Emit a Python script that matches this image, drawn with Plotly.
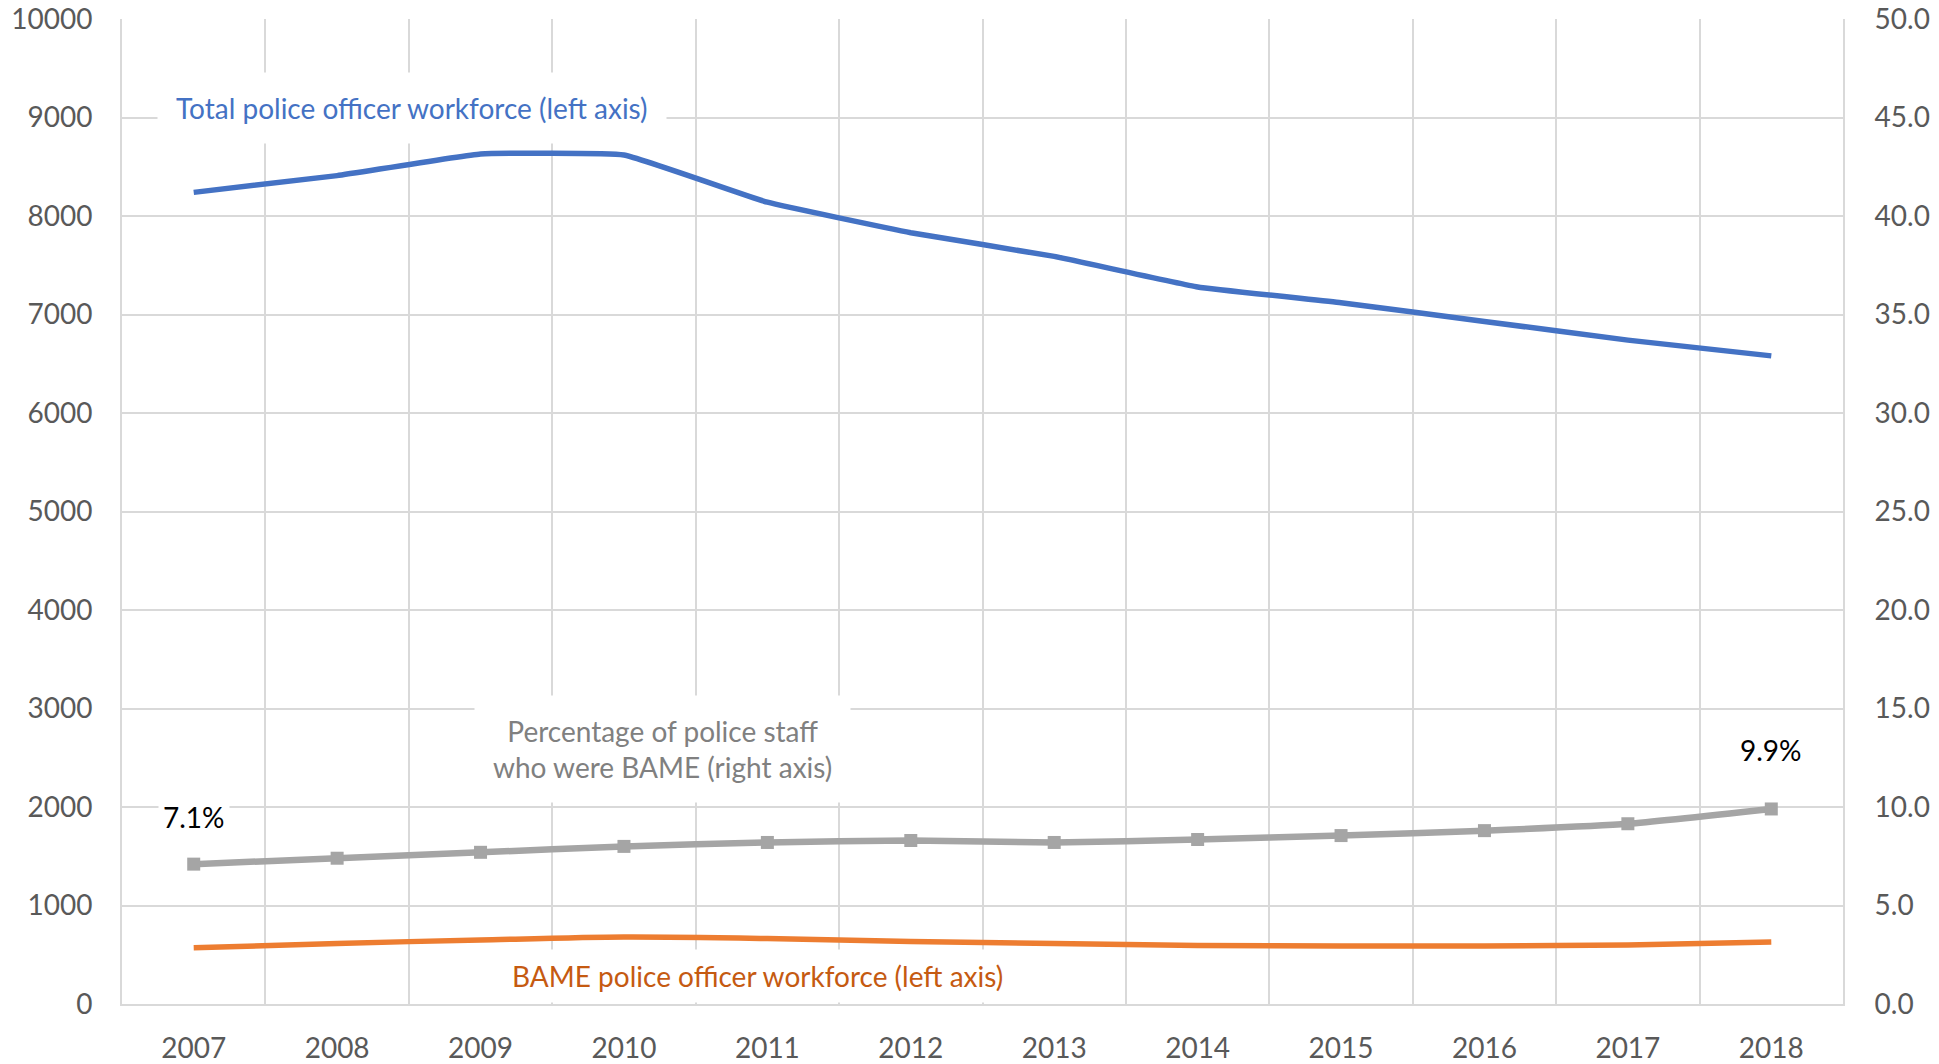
import plotly.graph_objects as go

years = ["2007", "2008", "2009", "2010", "2011", "2012", "2013", "2014", "2015", "2016", "2017", "2018"]
total_officers = [8240, 8410, 8630, 8620, 8140, 7830, 7590, 7280, 7120, 6930, 6740, 6580]
bame_officers = [570, 615, 650, 680, 665, 635, 615, 595, 590, 590, 600, 630]
bame_staff_pct = [7.1, 7.4, 7.7, 8.0, 8.2, 8.3, 8.2, 8.35, 8.55, 8.8, 9.15, 9.9]
left_ticks = [0, 1000, 2000, 3000, 4000, 5000, 6000, 7000, 8000, 9000, 10000]
right_ticks = [0, 5, 10, 15, 20, 25, 30, 35, 40, 45, 50]

FONT = "Lato"
GRID = "#d9d9d9"
TICK_COL = "#595959"
FS = 28

fig = go.Figure()
fig.add_trace(go.Scatter(x=years, y=total_officers, mode="lines",
                         line=dict(color="#4472C4", width=5.5, shape="spline", smoothing=0.3),
                         yaxis="y", showlegend=False, hoverinfo="skip"))
fig.add_trace(go.Scatter(x=years, y=bame_officers, mode="lines",
                         line=dict(color="#ED7D31", width=5.5, shape="spline", smoothing=0.8),
                         yaxis="y", showlegend=False, hoverinfo="skip"))
fig.add_trace(go.Scatter(x=years, y=bame_staff_pct, mode="lines+markers",
                         line=dict(color="#A5A5A5", width=6.5, shape="spline", smoothing=0.5),
                         marker=dict(symbol="square", size=13, color="#A5A5A5"),
                         yaxis="y2", showlegend=False, hoverinfo="skip"))

# value labels on first and last percentage points
last = len(years) - 1
fig.add_annotation(x=0, xref="x", y=bame_staff_pct[0], yref="y2", text=f"{bame_staff_pct[0]:.1f}%",
                   showarrow=False, yshift=47,
                   font=dict(family=FONT, size=FS, color="#000000"), bgcolor="white", borderpad=4)
fig.add_annotation(x=last, xref="x", y=bame_staff_pct[last], yref="y2", text=f"{bame_staff_pct[last]:.1f}%",
                   showarrow=False, yshift=59,
                   font=dict(family=FONT, size=FS, color="#000000"), bgcolor="white", borderpad=4)

# series labels
fig.add_annotation(x=1.52, xref="x", y=9100, yref="y",
                   text="Total police officer workforce (left axis)", showarrow=False,
                   font=dict(family=FONT, size=FS, color="#4472C4"),
                   bgcolor="white", borderpad=18)
fig.add_annotation(x=3.27, xref="x", y=2585, yref="y",
                   text="Percentage of police staff<br>who were BAME (right axis)", showarrow=False,
                   font=dict(family=FONT, size=FS, color="#808080"),
                   bgcolor="white", borderpad=18)
fig.add_annotation(x=3.93, xref="x", y=289, yref="y",
                   text="BAME police officer workforce (left axis)", showarrow=False,
                   font=dict(family=FONT, size=FS, color="#C55A11"),
                   bgcolor="white", borderpad=9)

fig.update_layout(
    width=1939, height=1064,
    margin=dict(l=122, r=96, t=19, b=60, autoexpand=False),
    paper_bgcolor="white", plot_bgcolor="white",
    font=dict(family=FONT, size=FS, color=TICK_COL),
    hovermode=False,
    xaxis=dict(type="category", tickson="boundaries", showgrid=True, gridcolor=GRID, gridwidth=2,
               ticks="", showline=True, linecolor=GRID, linewidth=2, mirror=False,
               tickfont=dict(family=FONT, size=FS, color=TICK_COL), ticklabelstandoff=18,
               ticklabeloverflow="allow",
               zeroline=False, range=[-0.5, 11.5], fixedrange=True),
    yaxis=dict(range=[0, 10000], tickvals=left_ticks, ticktext=[str(v) for v in left_ticks],
               showgrid=True, gridcolor=GRID, gridwidth=2, ticklabeloverflow="allow",
               showline=True, linecolor=GRID, linewidth=2, zeroline=False, ticks="",
               tickfont=dict(family=FONT, size=FS, color=TICK_COL), ticklabelstandoff=22,
               fixedrange=True),
    yaxis2=dict(range=[0, 50], tickvals=right_ticks, tickformat=".1f", overlaying="y", side="right",
                showgrid=False, showline=True, linecolor=GRID, linewidth=2, zeroline=False, ticks="",
                ticklabeloverflow="allow", fixedrange=True,
                tickfont=dict(family=FONT, size=FS, color=TICK_COL), ticklabelstandoff=24),
)

fig.write_html("out.html", config={"displayModeBar": False, "staticPlot": True},
               post_script="document.body.style.margin='0';document.body.style.overflow='hidden';")
